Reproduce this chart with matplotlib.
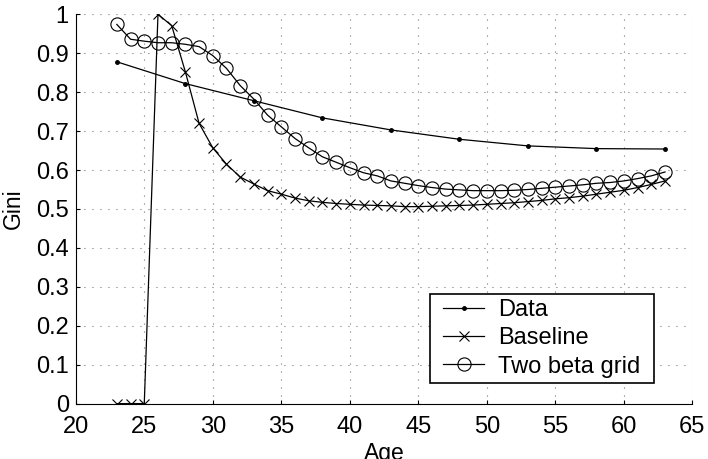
import matplotlib
matplotlib.use("Agg")
import matplotlib.pyplot as plt
from matplotlib.patches import Rectangle
from matplotlib.transforms import IdentityTransform

plt.rcParams['font.family'] = ['Liberation Sans', 'DejaVu Sans']

data_ages = [23, 28, 33, 38, 43, 48, 53, 58, 63]
data_gini = [0.878, 0.822, 0.778, 0.734, 0.703, 0.679, 0.662, 0.655, 0.654]

model_ages = list(range(23, 64))
baseline_gini = [0.0, 0.0, 0.0, 1.0, 0.971, 0.852, 0.720, 0.657, 0.615, 0.582,
                 0.564, 0.547, 0.538, 0.528, 0.521, 0.517, 0.514, 0.512, 0.510, 0.509,
                 0.508, 0.506, 0.506, 0.507, 0.508, 0.509, 0.510, 0.512, 0.514, 0.516,
                 0.519, 0.522, 0.526, 0.529, 0.533, 0.538, 0.543, 0.548, 0.555, 0.563,
                 0.572]
twobeta_gini = [0.974, 0.936, 0.931, 0.927, 0.927, 0.923, 0.917, 0.894, 0.861, 0.817,
                0.782, 0.741, 0.711, 0.681, 0.657, 0.634, 0.620, 0.606, 0.593, 0.585,
                0.572, 0.566, 0.560, 0.555, 0.551, 0.549, 0.547, 0.547, 0.547, 0.548,
                0.550, 0.553, 0.556, 0.559, 0.562, 0.566, 0.568, 0.572, 0.578, 0.585,
                0.595]

x_ticks = [20, 25, 30, 35, 40, 45, 50, 55, 60, 65]
y_ticks = [0, 0.1, 0.2, 0.3, 0.4, 0.5, 0.6, 0.7, 0.8, 0.9, 1]
y_ticklabels = ['0', '0.1', '0.2', '0.3', '0.4', '0.5', '0.6', '0.7', '0.8', '0.9', '1']

fig = plt.figure(figsize=(7.08, 4.59), dpi=100)
ax = fig.add_axes([0.107, 0.1207, 0.871, 0.8481])

lw = 0.9
ax.plot(data_ages, data_gini, color='black', lw=lw, marker='.', markersize=5, label='Data')
ax.plot(model_ages, baseline_gini, color='black', lw=lw, marker='x', markersize=6.5,
        markeredgewidth=0.8, label='Baseline')
ax.plot(model_ages, twobeta_gini, color='black', lw=lw, marker='o', markersize=9.5,
        markerfacecolor='none', markeredgewidth=0.8, label='Two beta grid')

ax.set_xlim(20, 65)
ax.set_ylim(0, 1)
ax.set_xticks(x_ticks)
ax.set_yticks(y_ticks)
ax.set_yticklabels(y_ticklabels)
ax.tick_params(direction='in', length=3, width=0.8, labelsize=17, colors='black')
ax.tick_params(axis='x', pad=9)
ax.tick_params(axis='y', pad=5)

ax.spines['top'].set_visible(False)
ax.spines['right'].set_visible(False)
ax.spines['left'].set_linewidth(0.8)
ax.spines['bottom'].set_linewidth(0.8)

ax.grid(True, color='#555555', linestyle=(0, (0.8, 6.4)), linewidth=0.8)
ax.set_axisbelow(True)

ax.set_xlabel('Age', fontsize=16.5)
ax.xaxis.set_label_coords(0.5, -0.099)
ax.set_ylabel('Gini', fontsize=16.5)
ax.yaxis.set_label_coords(-0.083, 0.5)

leg = ax.legend(loc='lower right', bbox_to_anchor=(0.924, 0.0537), borderaxespad=0,
                fontsize=17, frameon=False,
                handlelength=1.74, handletextpad=0.59, borderpad=0.22,
                labelspacing=0.26)
leg.set_zorder(5)

fig.canvas.draw()
bb = leg.get_window_extent()
extra = 8
frame = Rectangle((bb.x0 - extra, bb.y0), bb.width + 2 * extra, bb.height,
                  transform=IdentityTransform(), facecolor='white',
                  edgecolor='black', linewidth=1.2, zorder=4.9)
ax.add_artist(frame)

fig.savefig('out.png', dpi=100)
